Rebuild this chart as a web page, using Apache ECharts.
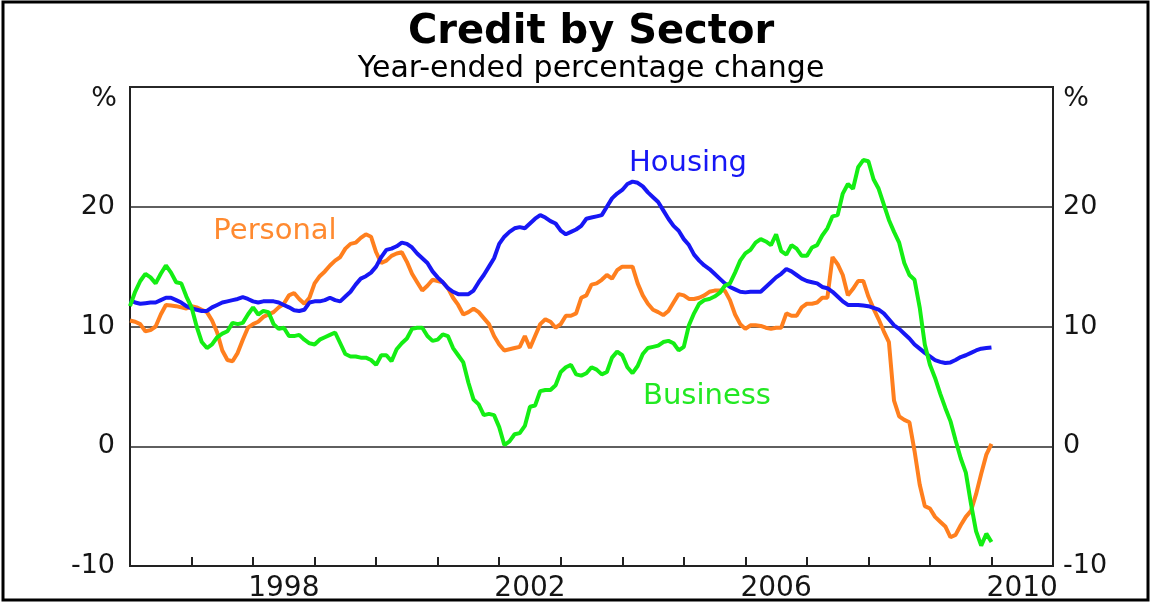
<!DOCTYPE html>
<html>
<head>
<meta charset="utf-8">
<script src="https://cdn.jsdelivr.net/npm/echarts@6/dist/echarts.min.js"></script>
<style>
  html, body { margin: 0; padding: 0; background: #fff; }
  #chart { width: 1151px; height: 603px; }
</style>
</head>
<body>
<div id="chart"></div>
<script>
// yearly bands on the x axis, monthly data from Jan 1996
var yearCats = ['1996', '1997', '1998', '1999', '2000', '2001', '2002', '2003',
  '2004', '2005', '2006', '2007', '2008', '2009', '2010'];
var labelYears = ['1998', '2002', '2006', '2010'];
var yTicks = [-10, 0, 10, 20];

// year-ended % change, monthly, Jan 1996 .. Jan 2010
var housing = [
  12.2, 12.0, 11.9, 11.95, 12.0, 12.0, 12.2, 12.4, 12.4, 12.2,
  12.0, 11.7, 11.5, 11.4, 11.3, 11.3, 11.6, 11.8, 12.0, 12.1,
  12.2, 12.3, 12.45, 12.3, 12.1, 12.0, 12.1, 12.1, 12.1, 12.0,
  11.8, 11.6, 11.35, 11.3, 11.4, 12.0, 12.1, 12.1, 12.2, 12.4,
  12.2, 12.1, 12.5, 12.9, 13.5, 14.0, 14.2, 14.5, 15.0, 15.8,
  16.4, 16.5, 16.7, 17.0, 16.9, 16.6, 16.1, 15.7, 15.3, 14.6,
  14.1, 13.7, 13.2, 12.9, 12.7, 12.7, 12.7, 13.0, 13.7, 14.3,
  15.0, 15.7, 16.9, 17.5, 17.9, 18.2, 18.3, 18.2, 18.6, 19.0,
  19.3, 19.1, 18.8, 18.6, 18.0, 17.7, 17.9, 18.1, 18.4, 19.0,
  19.1, 19.2, 19.3, 20.0, 20.7, 21.1, 21.4, 21.9, 22.1, 22.0,
  21.7, 21.2, 20.8, 20.4, 19.7, 19.0, 18.4, 18.0, 17.3, 16.8,
  16.0, 15.5, 15.1, 14.8, 14.4, 14.0, 13.6, 13.3, 13.1, 12.9,
  12.85, 12.9, 12.9, 12.9, 13.3, 13.7, 14.1, 14.4, 14.8, 14.6,
  14.3, 14.0, 13.8, 13.7, 13.6, 13.3, 13.2, 12.9, 12.5, 12.1,
  11.8, 11.8, 11.8, 11.75, 11.7, 11.55, 11.4, 11.1, 10.6, 10.1,
  9.8, 9.4, 9.0, 8.5, 8.15, 7.8, 7.5, 7.2, 7.05, 6.95,
  7.0, 7.2, 7.45, 7.6, 7.8, 8.0, 8.15, 8.2, 8.25
];
var personal = [
  10.5, 10.4, 10.2, 9.6, 9.7, 10.0, 11.0, 11.8, 11.75, 11.7,
  11.6, 11.5, 11.7, 11.6, 11.4, 11.2, 10.5, 9.5, 8.0, 7.2,
  7.1, 7.8, 8.9, 9.9, 10.2, 10.4, 10.8, 11.0, 11.2, 11.6,
  11.9, 12.6, 12.8, 12.3, 11.9, 12.4, 13.6, 14.2, 14.6, 15.1,
  15.5, 15.8, 16.5, 16.9, 17.0, 17.4, 17.7, 17.5, 16.2, 15.3,
  15.5, 15.9, 16.1, 16.2, 15.4, 14.4, 13.7, 13.0, 13.4, 13.9,
  13.8, 13.7, 13.2, 12.4, 11.8, 11.0, 11.2, 11.5, 11.2, 10.7,
  10.2, 9.2, 8.5, 8.0, 8.1, 8.2, 8.3, 9.2, 8.2, 9.2,
  10.2, 10.6, 10.4, 9.9, 10.2, 10.9, 10.9, 11.1, 12.4, 12.6,
  13.5, 13.6, 13.9, 14.3, 14.0, 14.7, 15.0, 15.0, 15.0, 13.6,
  12.6, 11.9, 11.4, 11.2, 10.95, 11.3, 12.0, 12.7, 12.6, 12.3,
  12.3, 12.4, 12.6, 12.9, 13.0, 13.0, 13.0, 12.2, 11.0, 10.2,
  9.8, 10.1, 10.1, 10.05, 9.9, 9.8, 9.9, 9.9, 11.1, 10.9,
  10.9, 11.6, 11.9, 11.9, 12.0, 12.4, 12.4, 15.8, 15.2, 14.3,
  12.6, 13.15, 13.8, 13.8, 12.5, 11.5, 10.6, 9.6, 8.7, 3.8,
  2.5, 2.2, 2.0, -0.4, -3.2, -5.0, -5.2, -5.9, -6.3, -6.7,
  -7.6, -7.4, -6.6, -5.9, -5.4, -4.0, -2.3, -0.7, 0.2
];
var business = [
  11.7, 12.9, 13.8, 14.4, 14.1, 13.6, 14.4, 15.1, 14.5, 13.7,
  13.6, 12.5, 11.6, 10.0, 8.7, 8.2, 8.5, 9.1, 9.4, 9.6,
  10.3, 10.2, 10.3, 11.0, 11.6, 11.0, 11.3, 11.2, 10.2, 9.8,
  9.9, 9.2, 9.2, 9.3, 8.9, 8.6, 8.5, 8.9, 9.1, 9.3,
  9.5, 8.6, 7.7, 7.5, 7.5, 7.4, 7.4, 7.2, 6.8, 7.6,
  7.6, 7.1, 8.1, 8.6, 9.0, 9.8, 9.9, 9.9, 9.2, 8.8,
  8.9, 9.35, 9.2, 8.2, 7.6, 7.0, 5.3, 3.9, 3.5, 2.6,
  2.7, 2.6, 1.6, 0.1, 0.4, 1.0, 1.1, 1.7, 3.3, 3.4,
  4.6, 4.7, 4.7, 5.1, 6.2, 6.6, 6.8, 6.0, 5.9, 6.1,
  6.6, 6.4, 6.0, 6.2, 7.4, 7.9, 7.6, 6.6, 6.1, 6.7,
  7.7, 8.2, 8.3, 8.4, 8.7, 8.8, 8.6, 8.0, 8.3, 10.1,
  11.1, 11.9, 12.2, 12.3, 12.5, 12.8, 13.4, 13.6, 14.5, 15.5,
  16.1, 16.4, 17.0, 17.3, 17.1, 16.8, 17.7, 16.3, 16.0, 16.8,
  16.5, 15.9, 15.9, 16.6, 16.8, 17.6, 18.2, 19.2, 19.3, 21.1,
  21.9, 21.5, 23.3, 23.9, 23.8, 22.3, 21.5, 20.2, 18.9, 17.9,
  17.0, 15.3, 14.3, 13.9, 11.6, 8.5, 6.8, 5.7, 4.4, 3.2,
  2.1, 0.5, -1.0, -2.2, -4.8, -7.1, -8.3, -7.3, -8.0
];

var FONT = 'DejaVu Sans';
var INK = '#151515';

function toPairs(arr) {
  return arr.map(function (v, i) { return [i, v]; });
}

function lineSeries(name, data, color) {
  return {
    name: name,
    type: 'line',
    xAxisIndex: 1,
    data: toPairs(data),
    showSymbol: false,
    symbol: 'none',
    lineStyle: { color: color, width: 4 },
    animation: false
  };
}

function txt(x, y, text, size, color, bold) {
  return {
    type: 'text',
    silent: true,
    style: {
      x: x, y: y, text: text,
      fill: color,
      font: (bold ? 'bold ' : '') + size + 'px "' + FONT + '"',
      align: 'center', verticalAlign: 'middle',
      textAlign: 'center', textVerticalAlign: 'middle'
    }
  };
}

var yLabel = {
  fontFamily: FONT,
  fontSize: 27,
  color: INK,
  formatter: function (v) { return yTicks.indexOf(v) >= 0 ? String(v) : ''; }
};

var option = {
  animation: false,
  backgroundColor: '#fff',
  grid: {
    left: 130, right: 98, top: 87, bottom: 37,
    show: true, borderColor: '#222', borderWidth: 2
  },
  xAxis: [
    {
      type: 'category',
      data: yearCats,
      boundaryGap: true,
      axisLine: { onZero: false, lineStyle: { color: '#222', width: 2 } },
      axisTick: { show: true, interval: 0, inside: true, length: 9, lineStyle: { color: '#222', width: 2 } },
      axisLabel: {
        interval: function (i, v) { return labelYears.indexOf(v) >= 0; },
        fontFamily: FONT, fontSize: 28, color: INK, margin: 9
      },
      splitLine: { show: false }
    },
    { type: 'value', min: 0, max: 180, show: false }
  ],
  yAxis: [
    {
      type: 'value', min: -10, max: 30, interval: 10, position: 'left',
      axisLine: { show: false }, axisTick: { show: false },
      axisLabel: Object.assign({ margin: 15 }, yLabel),
      splitLine: { show: true, lineStyle: { color: '#2a2a2a', width: 1.5 } }
    },
    {
      type: 'value', min: -10, max: 30, interval: 10, position: 'right',
      axisLine: { show: false }, axisTick: { show: false },
      axisLabel: Object.assign({ margin: 10 }, yLabel),
      splitLine: { show: false }
    }
  ],
  series: [
    lineSeries('Personal', personal, '#ff7f1e'),
    lineSeries('Housing', housing, '#1717f5'),
    lineSeries('Business', business, '#14ee14')
  ],
  graphic: [
    {
      type: 'rect', silent: true,
      shape: { x: 3, y: 2, width: 1145, height: 598 },
      style: { fill: 'none', stroke: '#000', lineWidth: 3 }
    },
    txt(591, 33, 'Credit by Sector', 40, '#000', true),
    txt(591, 69, 'Year-ended percentage change', 30, '#000', false),
    txt(104, 99, '%', 27, INK, false),
    txt(1076, 99, '%', 27, INK, false),
    txt(688, 163, 'Housing', 29, '#1717f5', false),
    txt(275, 231, 'Personal', 29, '#ff8a30', false),
    txt(707, 396, 'Business', 29, '#22e822', false)
  ]
};

var chart = echarts.init(document.getElementById('chart'), null, { renderer: 'canvas' });
chart.setOption(option);
</script>
</body>
</html>
